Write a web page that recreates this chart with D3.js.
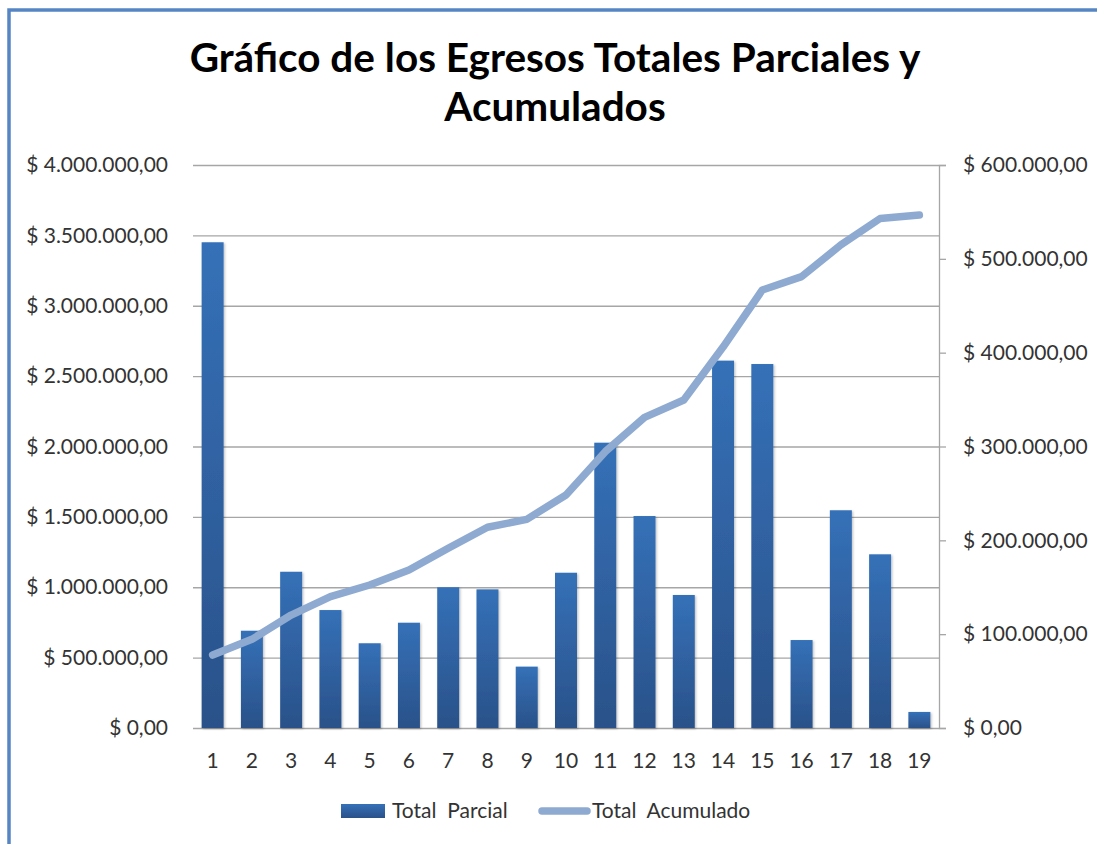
<!DOCTYPE html>
<html>
<head>
<meta charset="utf-8">
<script src="https://cdn.jsdelivr.net/npm/d3@7"></script>
<style>
  html, body { margin: 0; padding: 0; background: #fff; }
  svg { display: block; }
  text { font-family: Lato, "Noto Sans", sans-serif; }
</style>
</head>
<body>
<svg id="chart" width="1097" height="844"></svg>
<script>
// Categories (periods) and series values
const categories = ["1","2","3","4","5","6","7","8","9","10","11","12","13","14","15","16","17","18","19"];
const totalParcial = [3451000, 691000, 1110000, 838000, 602000, 748000, 1000000, 985000, 436000, 1103000,
                      2027000, 1506000, 945000, 2610000, 2586000, 625000, 1547000, 1234000, 114000];
const totalAcumulado = [77800, 94500, 120400, 140000, 152400, 168400, 191500, 213900, 222400, 248300,
                        294500, 331000, 349600, 406000, 466800, 481000, 514800, 543000, 546700];
const leftTicks = [0, 500000, 1000000, 1500000, 2000000, 2500000, 3000000, 3500000, 4000000];
const rightTicks = [0, 100000, 200000, 300000, 400000, 500000, 600000];
const seriesNames = ["Total  Parcial", "Total  Acumulado"];
const titleLines = ["Gráfico de los Egresos Totales Parciales y", "Acumulados"];

const svg = d3.select("#chart");
const W = 1097, H = 844;
const plot = { left: 193, right: 939, top: 165, bottom: 728 };
const labelSize = 21;

// Currency format: "$ 1.234.567,00"
const money = v => "$ " + d3.format(",.2f")(v).replace(/,/g, "#").replace(/\./g, ",").replace(/#/g, ".");

const x = d3.scaleBand().domain(categories).range([plot.left, plot.right]).paddingInner(0.44).paddingOuter(0.22);
const yL = d3.scaleLinear().domain([0, 4000000]).range([plot.bottom, plot.top]);
const yR = d3.scaleLinear().domain([0, 600000]).range([plot.bottom, plot.top]);

const defs = svg.append("defs");
const grad = defs.append("linearGradient").attr("id", "barGrad").attr("x1", 0).attr("y1", 0).attr("x2", 0).attr("y2", 1);
grad.append("stop").attr("offset", "0%").attr("stop-color", "#3571b8");
grad.append("stop").attr("offset", "100%").attr("stop-color", "#2a5189");
const shadow = defs.append("filter").attr("id", "barShadow").attr("x", "-30%").attr("y", "-5%").attr("width", "160%").attr("height", "115%");
shadow.append("feDropShadow").attr("dx", 1.2).attr("dy", 1).attr("stdDeviation", 1.2)
  .attr("flood-color", "#000").attr("flood-opacity", 0.25);

// Frame
svg.append("rect").attr("x", 0).attr("y", 0).attr("width", W).attr("height", H).attr("fill", "#fff");
svg.append("path").attr("d", `M9,${H + 5} V10 H${W + 5}`)
  .attr("fill", "none").attr("stroke", "#5585c3").attr("stroke-width", 3.5);

// Title
const title = svg.append("text").attr("text-anchor", "middle")
  .attr("font-weight", 700).attr("font-size", 40.5).attr("fill", "#000");
titleLines.forEach((t, i) => {
  title.append("tspan").attr("x", 555).attr("y", 72 + i * 49).text(t);
});

// Left axis with gridlines
const gL = svg.append("g").attr("transform", `translate(${plot.left},0)`)
  .call(d3.axisLeft(yL).tickValues(leftTicks).tickFormat(money)
    .tickSize(-(plot.right - plot.left)).tickPadding(25));
gL.select(".domain").remove();
gL.selectAll(".tick line").attr("stroke", "#a6a6a6").attr("stroke-width", 1.3);
gL.selectAll(".tick text").attr("font-size", labelSize).attr("fill", "#333");

// Bars
svg.append("g").selectAll("rect").data(totalParcial).join("rect")
  .attr("x", (d, i) => x(categories[i]))
  .attr("width", x.bandwidth())
  .attr("y", d => yL(d))
  .attr("height", d => yL(0) - yL(d))
  .attr("fill", "url(#barGrad)")
  .attr("filter", "url(#barShadow)");

// Right axis
const gR = svg.append("g").attr("transform", `translate(${plot.right},0)`)
  .call(d3.axisRight(yR).tickValues(rightTicks).tickFormat(money).tickSize(7).tickPadding(17));
gR.select(".domain").attr("stroke", "#a6a6a6").attr("stroke-width", 1.3);
gR.selectAll(".tick line").attr("stroke", "#a6a6a6").attr("stroke-width", 1.3);
gR.selectAll(".tick text").attr("font-size", labelSize).attr("fill", "#333");

// Category axis
const gX = svg.append("g").attr("transform", `translate(0,${plot.bottom})`)
  .call(d3.axisBottom(x).tickSize(0).tickPadding(25));
gX.select(".domain").remove();
gX.selectAll(".tick text").attr("font-size", labelSize).attr("fill", "#333");

// Cumulative line
const line = d3.line()
  .x((d, i) => x(categories[i]) + x.bandwidth() / 2)
  .y(d => yR(d));
svg.append("path").datum(totalAcumulado)
  .attr("d", line)
  .attr("fill", "none").attr("stroke", "#8eaad1").attr("stroke-width", 7.5)
  .attr("stroke-linecap", "round").attr("stroke-linejoin", "round");

// Legend
const lg = svg.append("g");
lg.append("rect").attr("x", 341).attr("y", 804).attr("width", 44).attr("height", 14).attr("fill", "url(#barGrad)");
lg.append("text").attr("x", 392).attr("y", 818).attr("font-size", labelSize).attr("fill", "#333")
  .style("white-space", "pre").attr("xml:space", "preserve").text(seriesNames[0]);
lg.append("line").attr("x1", 542).attr("x2", 587).attr("y1", 811).attr("y2", 811)
  .attr("stroke", "#8eaad1").attr("stroke-width", 7.5).attr("stroke-linecap", "round");
lg.append("text").attr("x", 592).attr("y", 818).attr("font-size", labelSize).attr("fill", "#333")
  .style("white-space", "pre").attr("xml:space", "preserve").text(seriesNames[1]);
</script>
</body>
</html>
